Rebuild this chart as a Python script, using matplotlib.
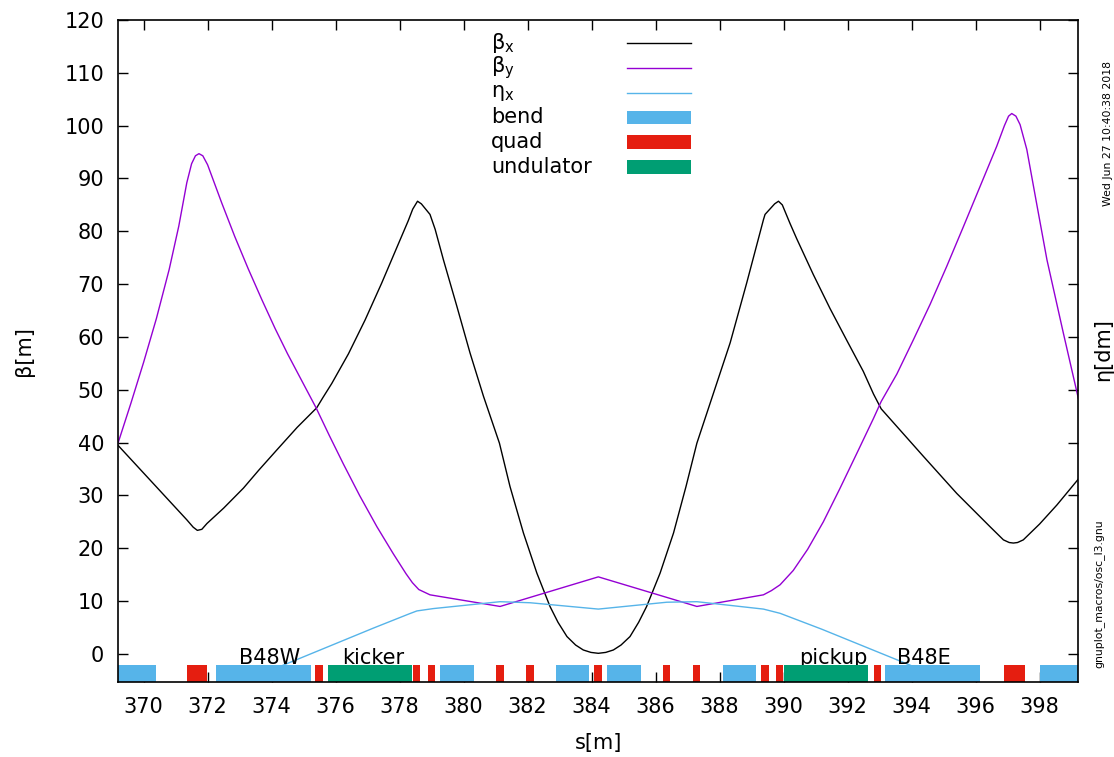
import matplotlib
matplotlib.use("Agg")
import matplotlib.pyplot as plt
from matplotlib.lines import Line2D
from matplotlib.patches import Rectangle

plt.rcParams['font.family'] = ['DejaVu Sans']

# ---------------- data ----------------
beta_x_s = [369.2, 371.35, 371.55, 371.68, 371.82, 371.98, 372.5, 373.12, 373.6, 374.16,
            374.8, 375.41, 375.6, 375.88, 376.40, 376.92, 377.44, 377.96, 378.27, 378.41,
            378.56, 378.68, 378.95, 379.11,
            379.37, 379.79, 380.20, 380.62, 381.12, 381.45, 381.87, 382.29, 382.70,
            382.95, 383.23, 383.5, 383.74, 383.98, 384.21, 384.44, 384.68, 384.92,
            385.20, 385.47, 385.72, 386.14, 386.56, 386.95,
            387.29, 387.81, 388.33, 388.85, 389.37, 389.42, 389.72, 389.84, 389.96,
            390.2, 390.41, 390.93, 391.45, 391.98, 392.49, 392.81, 393.05, 394.37, 395.41,
            396.45, 396.87, 397.05, 397.18, 397.31, 397.49, 398.0, 398.54, 399.21]
beta_x_v = [39.5, 25.4, 24.0, 23.4, 23.6, 24.7, 27.6, 31.4, 34.8, 38.6,
            42.9, 46.6, 48.5, 51.2, 56.8, 63.2, 70.2, 77.6, 82.0, 84.2,
            85.7, 85.2, 83.2, 80.4,
            74.6, 65.8, 57.0, 48.8, 39.9, 31.7, 22.9, 15.3, 9.0,
            6.0, 3.3, 1.7, 0.76, 0.3, 0.13, 0.3, 0.76, 1.7,
            3.3, 6.0, 9.0, 15.3, 22.9, 31.7,
            39.9, 49.4, 58.9, 70.3, 82.2, 83.2, 85.2, 85.7, 85.0,
            81.5, 78.6, 71.8, 65.4, 59.3, 53.5, 49.2, 46.4, 37.4, 30.4,
            24.1, 21.6, 21.1, 21.0, 21.1, 21.6, 24.6, 28.2, 33.1]

beta_y_s = [369.2, 369.6, 370.0, 370.4, 370.8, 371.1, 371.35, 371.5, 371.62, 371.73,
            371.85, 372.0, 372.44, 372.85, 373.27, 373.7, 374.11, 374.5, 374.84, 375.39,
            375.8, 376.24, 376.75, 377.29, 377.8, 378.2, 378.40, 378.6, 378.95,
            381.14, 384.21, 387.29, 389.37, 389.62, 389.89,
            390.3, 390.75, 391.24, 391.75, 392.29, 392.81, 393.05, 393.54, 394.05,
            394.58, 395.1, 395.62, 396.14, 396.66, 396.9, 397.03, 397.13,
            397.26, 397.39, 397.60, 397.9, 398.23, 398.74, 399.21]
beta_y_v = [39.9, 47.4, 55.2, 63.5, 72.8, 81.0, 89.2, 92.8, 94.3, 94.7,
            94.3, 92.6, 85.4, 79.0, 72.9, 67.0, 61.6, 56.8, 52.9, 46.6,
            41.4, 36.0, 30.0, 24.1, 19.0, 15.2, 13.5, 12.2, 11.2,
            9.0, 14.6, 9.0, 11.2, 12.0, 13.1,
            15.8, 19.8, 25.0, 31.2, 38.0, 44.6, 47.8, 53.0, 59.4,
            66.2, 73.4, 80.9, 88.5, 96.1, 100.0, 101.8, 102.3,
            101.8, 100.2, 95.5, 85.5, 74.6, 60.8, 48.4]

eta_x_s = [373.5, 374.37, 377.18, 378.30, 378.54, 379.06, 381.14, 382.08, 384.21,
           386.35, 387.29, 389.37, 389.89, 391.19, 393.95, 394.8]
eta_x_v = [-4.3, -2.1, 4.9, 7.6, 8.15, 8.6, 9.9, 9.7, 8.5,
           9.8, 9.9, 8.5, 7.7, 4.7, -2.1, -4.3]

bend_start = [369.0, 372.27, 379.27, 382.89, 384.49, 388.10, 393.18, 398.02]
bend_end = [370.39, 375.24, 380.31, 383.92, 385.53, 389.14, 396.15, 399.5]
quad_start = [371.35, 375.37, 378.41, 378.88, 381.02, 381.95, 384.09, 386.23,
              387.16, 389.30, 389.76, 392.81, 396.90]
quad_end = [371.98, 375.60, 378.65, 379.11, 381.26, 382.19, 384.33, 386.46,
            387.40, 389.54, 389.99, 393.05, 397.55]
und_start = [375.77, 390.02]
und_end = [378.40, 392.65]

label_names = ["B48W", "kicker", "pickup", "B48E"]
label_pos = [373.95, 377.18, 391.56, 394.37]

x_ticks = list(range(370, 399, 2))
y_ticks = list(range(0, 121, 10))

# ---------------- style ----------------
C_BX = "#000000"
C_BY = "#9400D3"
C_ETA = "#56B4E9"
C_BEND = "#56B4E9"
C_QUAD = "#E51E10"
C_UND = "#009E73"
FS = 15

fig = plt.figure(figsize=(11.14, 7.57), dpi=100)
ax = fig.add_axes([118 / 1114, 1 - 682 / 757, 960 / 1114, 662 / 757])

XMIN, XMAX = 369.2, 399.2
YMIN, YMAX = -5.3, 120
BAR_TOP = -2.0

ax.plot(beta_x_s, beta_x_v, color=C_BX, lw=1.0, zorder=2)
ax.plot(beta_y_s, beta_y_v, color=C_BY, lw=1.0, zorder=2)
ax.plot(eta_x_s, eta_x_v, color=C_ETA, lw=1.0, zorder=2)

for name, s in zip(label_names, label_pos):
    ax.text(s, BAR_TOP + 0.1, name, ha='center', va='baseline', fontsize=FS, zorder=2)

def draw_elems(starts, ends, color):
    widths = [e - s for s, e in zip(starts, ends)]
    ax.bar(starts, BAR_TOP - YMIN, width=widths, bottom=YMIN, align='edge',
           color=color, edgecolor='none', zorder=4)

draw_elems(bend_start, bend_end, C_BEND)
draw_elems(quad_start, quad_end, C_QUAD)
draw_elems(und_start, und_end, C_UND)

ax.set_xlim(XMIN, XMAX)
ax.set_ylim(YMIN, YMAX)
ax.set_xticks(x_ticks)
ax.set_yticks(y_ticks)
ax.tick_params(direction='in', length=7, width=1.0, top=True, right=True, labelsize=FS)
ax.tick_params(axis='x', pad=11)
ax.tick_params(axis='y', pad=10)
for sp in ax.spines.values():
    sp.set_linewidth(1.2)
    sp.set_zorder(5)

ax.set_xlabel("s[m]", fontsize=FS, labelpad=11)
ax.set_ylabel("β[m]", fontsize=FS, labelpad=22)
fig.text(1103 / 1114, 1 - 350 / 757, "η[dm]", rotation=90, ha='center', va='center', fontsize=FS)
fig.text(1108 / 1114, 1 - 134 / 757, "Wed Jun 27 10:40:38 2018", rotation=90,
         ha='center', va='center', fontsize=7.8)
fig.text(1099 / 1114, 1 - 594 / 757, "gnuplot_macros/osc_l3.gnu", rotation=90,
         ha='center', va='center', fontsize=7.8)

# ---------------- legend (gnuplot style, no frame) ----------------
leg_labels = ["β$_{\\mathrm{x}}$", "β$_{\\mathrm{y}}$", "η$_{\\mathrm{x}}$", "bend", "quad", "undulator"]
leg_colors = [C_BX, C_BY, C_ETA, C_BEND, C_QUAD, C_UND]
leg_kind = ["line", "line", "line", "box", "box", "box"]
tx = (491 - 118) / 960
sx0 = (627 - 118) / 960
sx1 = (691 - 118) / 960
row0 = (682 - 43) / 662
drow = 24.8 / 662
box_h = 13.5 / 662
for i, (lab, col, kind) in enumerate(zip(leg_labels, leg_colors, leg_kind)):
    yy = row0 - i * drow
    ax.text(tx, yy, lab, transform=ax.transAxes, ha='left', va='center', fontsize=FS)
    if kind == "line":
        ax.add_line(Line2D([sx0, sx1], [yy, yy], transform=ax.transAxes, color=col, lw=1.0))
    else:
        ax.add_patch(Rectangle((sx0, yy - box_h / 2), sx1 - sx0, box_h,
                               transform=ax.transAxes, color=col, lw=0))

fig.savefig("out.png", dpi=100)
